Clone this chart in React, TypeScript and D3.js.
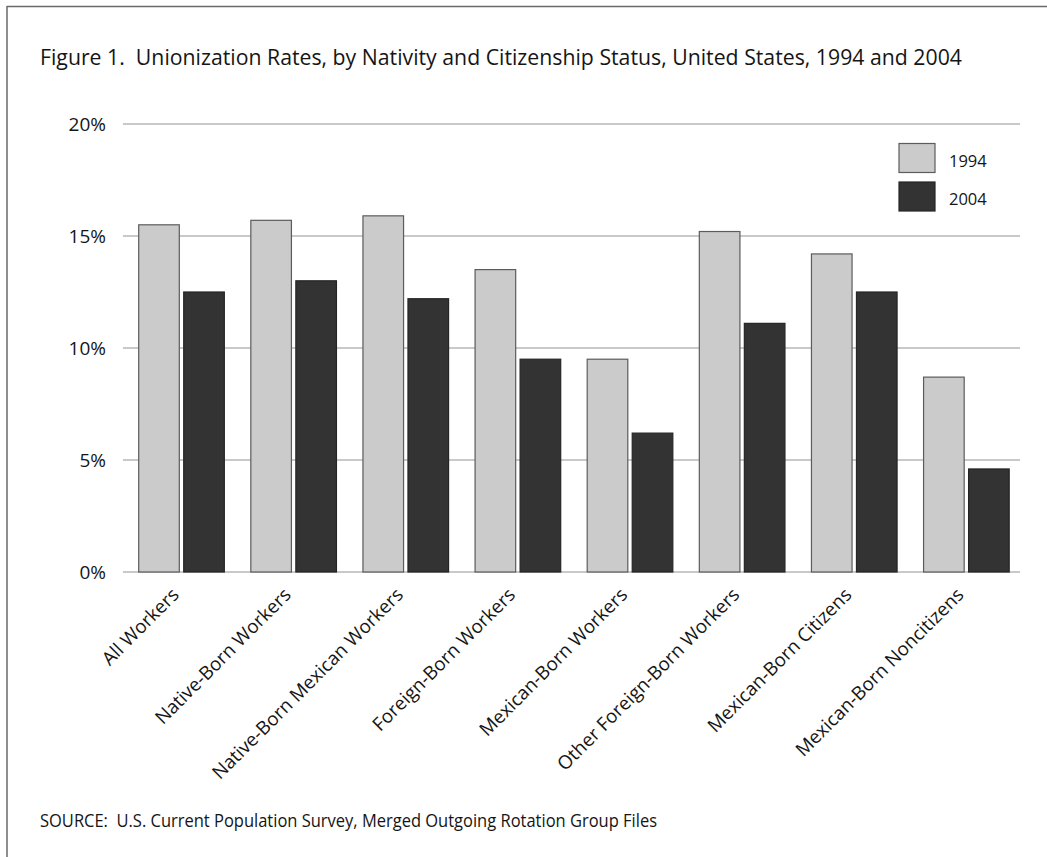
import React from "react";
import * as d3 from "d3";

const categories = [
  "All Workers",
  "Native-Born Workers",
  "Native-Born Mexican Workers",
  "Foreign-Born Workers",
  "Mexican-Born Workers",
  "Other Foreign-Born Workers",
  "Mexican-Born Citizens",
  "Mexican-Born Noncitizens",
];
const seriesNames = ["1994", "2004"];
const values1994 = [15.5, 15.7, 15.9, 13.5, 9.5, 15.2, 14.2, 8.7];
const values2004 = [12.5, 13.0, 12.2, 9.5, 6.2, 11.1, 12.5, 4.6];
const yTicks = [0, 5, 10, 15, 20];
const title =
  "Figure 1.\u00a0 Unionization Rates, by Nativity and Citizenship Status, United States, 1994 and 2004";
const source = "SOURCE:\u00a0 U.S. Current Population Survey, Merged Outgoing Rotation Group Files";

const W = 1047;
const H = 857;
const FONT = "'Open Sans', 'Noto Sans', sans-serif";

export default function App() {
  const left = 123;
  const right = 1020;
  const top = 124;
  const bottom = 572;

  const x = d3.scaleBand<string>().domain(categories).range([left, right]).padding(0);
  const inner = d3
    .scaleBand<string>()
    .domain(seriesNames)
    .range([15.7, x.bandwidth() - 10.8])
    .paddingInner(0.098)
    .paddingOuter(0);
  const y = d3.scaleLinear().domain([0, 20]).range([bottom, top]);

  const fills: Record<string, string> = { "1994": "#cbcbcb", "2004": "#333333" };
  const strokes: Record<string, string> = { "1994": "#5c5c5c", "2004": "#252525" };
  const series = [values1994, values2004];

  return (
    <svg
      width={W}
      height={H}
      style={{ position: "absolute", left: 0, top: 0, background: "#fff" }}
      fontFamily={FONT}
    >
      <rect x={0} y={0} width={W} height={H} fill="#fff" />
      {/* frame */}
      <line x1={7} y1={6.5} x2={W} y2={6.5} stroke="#6a6a6a" strokeWidth={1.5} />
      <line x1={7} y1={6} x2={7} y2={H} stroke="#6a6a6a" strokeWidth={1.5} />

      <text x={40} y={65} fontSize={22.5} fill="#151515" textLength={922} lengthAdjust="spacingAndGlyphs">
        {title}
      </text>

      {/* gridlines */}
      {yTicks.map((t) => (
        <g key={t}>
          <line x1={left} x2={right} y1={y(t)} y2={y(t)} stroke="#c9c9c9" strokeWidth={2} />
          <text
            x={106}
            y={y(t)}
            dy="0.36em"
            textAnchor="end"
            fontSize={19}
            fill="#151515"
          >
            {`${t}%`}
          </text>
        </g>
      ))}

      {/* bars */}
      {categories.map((c, i) => (
        <g key={c}>
          {seriesNames.map((s, j) => {
            const v = series[j][i];
            const bx = (x(c) as number) + (inner(s) as number);
            return (
              <rect
                key={s}
                x={bx}
                y={y(v)}
                width={inner.bandwidth()}
                height={y(0) - y(v)}
                fill={fills[s]}
                stroke={strokes[s]}
                strokeWidth={1.2}
              />
            );
          })}
        </g>
      ))}

      {/* x labels */}
      {categories.map((c) => {
        const cx = (x(c) as number) + x.bandwidth() / 2 + 1;
        return (
          <text
            key={c}
            transform={`translate(${cx},${596}) rotate(-45)`}
            textAnchor="end"
            fontSize={18.8}
            fill="#151515"
          >
            {c}
          </text>
        );
      })}

      {/* legend */}
      {seriesNames.map((s, j) => (
        <g key={s} transform={`translate(899,${143.5 + j * 38.5})`}>
          <rect x={0} y={0} width={36} height={29} fill={fills[s]} stroke={strokes[s]} strokeWidth={1.2} />
          <text x={50} y={23} fontSize={16.5} fill="#151515">
            {s}
          </text>
        </g>
      ))}

      <text x={40} y={827} fontSize={17.5} fill="#151515" textLength={617} lengthAdjust="spacingAndGlyphs">
        {source}
      </text>
    </svg>
  );
}
